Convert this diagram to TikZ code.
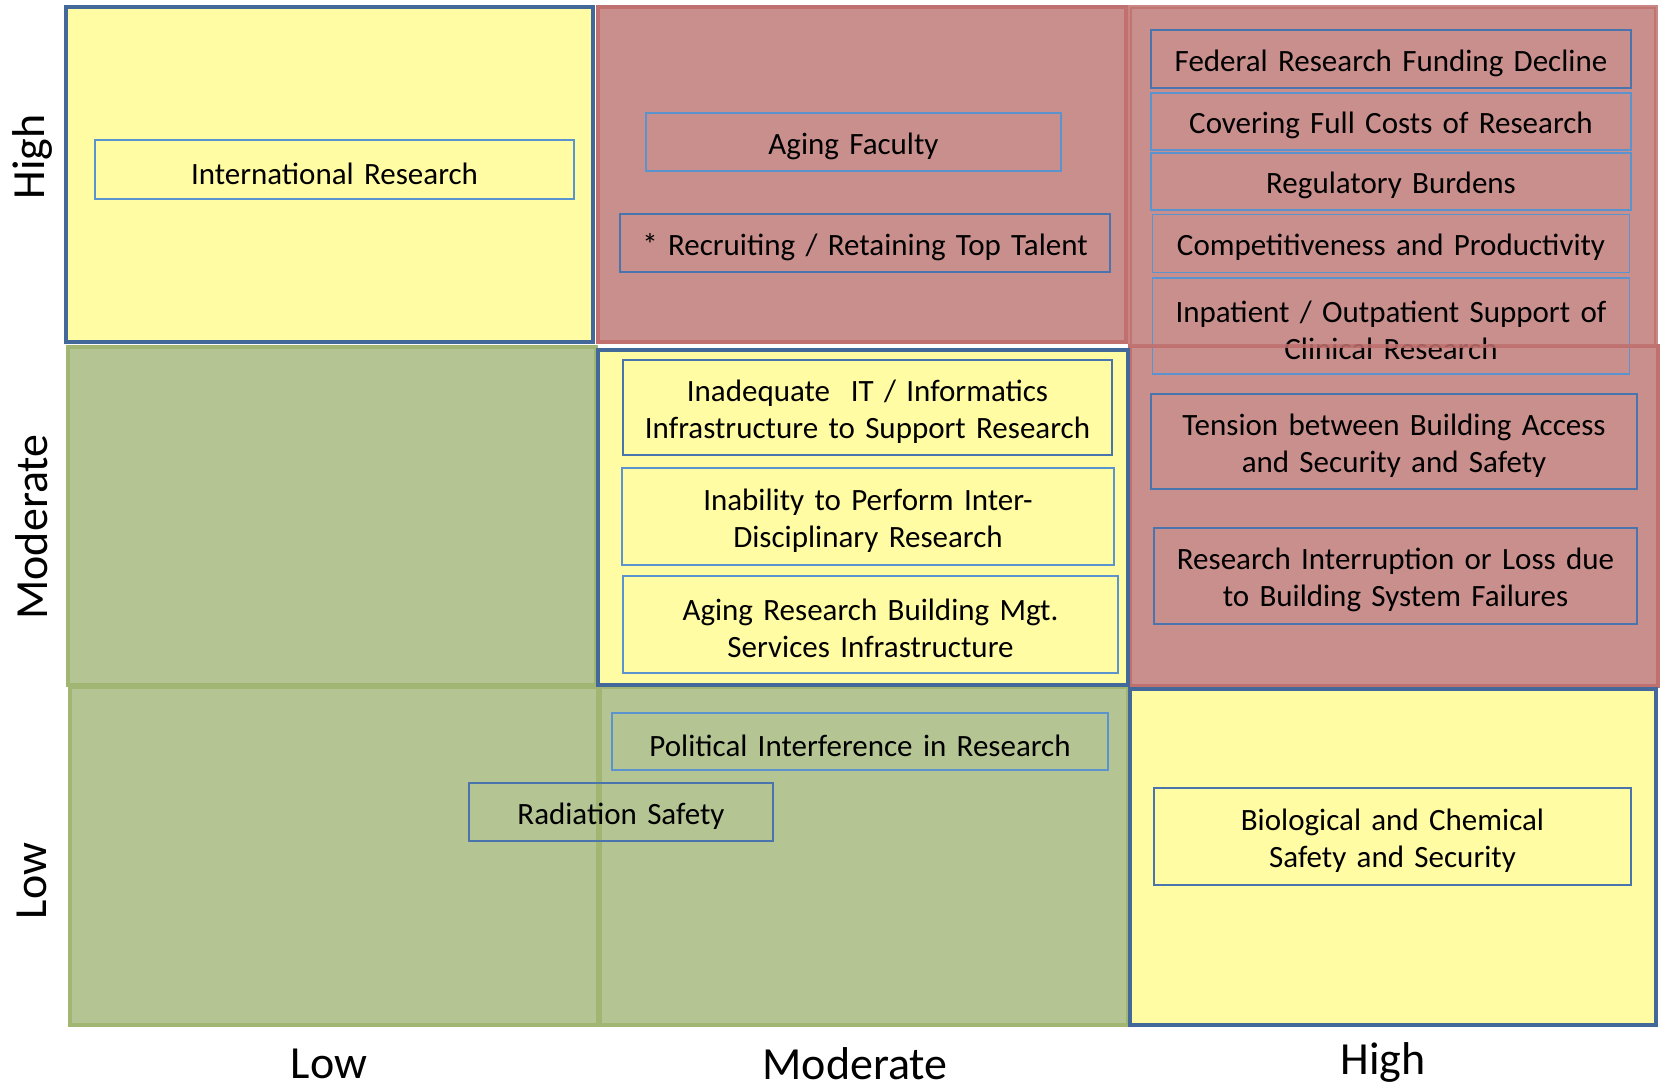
\documentclass[tikz,border=0pt]{standalone}
\usepackage{fontspec}
\setmainfont{Carlito}
\usetikzlibrary{positioning}
\definecolor{cellyellow}{HTML}{FFFCA3}
\definecolor{cellred}{HTML}{C98F8C}
\definecolor{redline}{HTML}{C0716F}
\definecolor{cellgreen}{HTML}{B4C493}
\definecolor{greenline}{HTML}{A1B673}
\definecolor{blueline}{HTML}{43699B}
\definecolor{boxblue}{HTML}{5B93CF}
\definecolor{boxdark}{HTML}{4A74AD}
\begin{document}
\begin{tikzpicture}[x=1pt, y=-1pt]
	\tikzstyle{green cell} = [fill=cellgreen, draw=greenline, line width=4.5pt]
	\tikzstyle{red cell} = [fill=cellred, draw=redline, line width=4.5pt]
	\tikzstyle{yellow cell} = [fill=cellyellow, draw=blueline, line width=4.5pt]
	\tikzstyle{risk} = [rectangle, draw=boxblue, line width=1.8pt, inner sep=0pt,
	align=center, font=\fontsize{31}{37}\selectfont,
	execute at begin node={\rule{0pt}{30pt}}]
	\tikzstyle{axis label} = [font=\fontsize{46}{50}\selectfont]
	\useasboundingbox (0,0) rectangle (1661,1085);
	% Grid cells
	\draw [green cell] (68,347) rectangle (596,685);
	\draw [green cell] (70,687) rectangle (598,1025);
	\draw [green cell] (600,687) rectangle (1128,1025);
	\draw [red cell] (598,7) rectangle (1126,342);
	\draw [red cell] (1130,346) rectangle (1658,686);
	\fill [cellred] (1130,7) rectangle (1656,346);
	\draw [yellow cell] (66,7) rectangle (593,342);
	\draw [yellow cell] (598,350) rectangle (1128,685);
	\draw [yellow cell] (1130,689) rectangle (1656,1025);
	% Place nodes
	\node [risk, fill=cellyellow, text width=479pt, minimum height=59pt] (intl) at (334.5,169.5) {International Research};
	\node [risk, text width=415pt, minimum height=58pt] (faculty) at (853.5,142) {Aging Faculty};
	\node [risk, draw=boxdark, text width=490pt, minimum height=58pt] (talent) at (865,243) {* Recruiting / Retaining Top Talent};
	\node [risk, draw=boxdark, text width=480pt, minimum height=58pt] (funding) at (1391,59) {Federal Research Funding Decline};
	\node [risk, text width=480pt, minimum height=57pt, below=3pt of funding] (costs) {Covering Full Costs of Research};
	\node [risk, text width=480pt, minimum height=57pt, below=1pt of costs] (burdens) {Regulatory Burdens};
	\node [risk, text width=477pt, minimum height=58pt, below=3pt of burdens] (compete) {Competitiveness and Productivity};
	\node [risk, text width=477pt, minimum height=96pt, below=4pt of compete] (clinical) {Inpatient / Outpatient Support of\\Clinical Research};
	\node [risk, draw=boxdark, text width=486pt, minimum height=95pt] (access) at (1394,441.5) {Tension between Building Access\\and Security and Safety};
	\node [risk, draw=boxdark, text width=483pt, minimum height=96pt] (failures) at (1395.5,576) {Research Interruption or Loss due\\to Building System Failures};
	\node [risk, draw=boxdark, fill=cellyellow, text width=489pt, minimum height=95pt] (informatics) at (867.5,407.5) {Inadequate~~IT / Informatics\\Infrastructure to Support Research};
	\node [risk, fill=cellyellow, text width=492pt, minimum height=97pt] (disciplinary) at (868,516.5) {Inability to Perform Inter-\\Disciplinary Research};
	\node [risk, fill=cellyellow, text width=495pt, minimum height=97pt] (building) at (870.5,624.5) {Aging Research Building Mgt.\\Services Infrastructure};
	\node [risk, text width=496pt, minimum height=57pt] (political) at (860,741.5) {Political Interference in Research};
	\node [risk, draw=boxdark, text width=304pt, minimum height=58pt] (radiation) at (621,812) {Radiation Safety};
	\node [risk, draw=boxdark, fill=cellyellow, text width=477pt, minimum height=97pt] (biochem) at (1392.5,836.5) {Biological and Chemical\\Safety and Security};
	% Border of the top right cell
	\draw [redline, line width=4.5pt, draw opacity=0.85] (1130,7) rectangle (1656,346);
	% Axis labels
	\node [axis label, rotate=90] (yhigh) at (32,157) {High};
	\node [axis label, rotate=90] (ymod) at (32,527) {Moderate};
	\node [axis label, rotate=90] (ylow) at (32,881) {Low};
	\node [axis label] (xlow) at (329,1064) {Low};
	\node [axis label] (xmod) at (855,1064) {Moderate};
	\node [axis label] (xhigh) at (1383,1062) {High};
\end{tikzpicture}
\end{document}
